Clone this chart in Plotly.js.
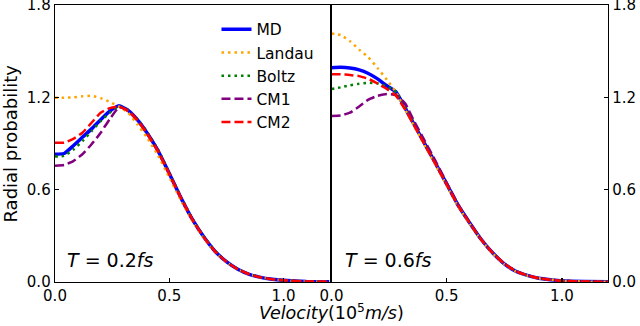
<!DOCTYPE html>
<html>
<head>
<meta charset="utf-8">
<script src="https://cdn.plot.ly/plotly-3.0.1.min.js"></script>
<style>html,body{margin:0;padding:0;background:#fff;}#chart{width:640px;height:326px;}</style>
</head>
<body>
<div id="chart"></div>
<script>
// Velocity grid (10^5 m/s)
const velocity = [0, 0.04, 0.08, 0.12, 0.16, 0.2, 0.24, 0.28, 0.32, 0.36, 0.4, 0.45, 0.5, 0.55, 0.6, 0.65, 0.7, 0.75, 0.8, 0.85, 0.9, 0.95, 1.0, 1.1, 1.2];

// T = 0.2 fs (left panel)
const md02     = [0.83, 0.835, 0.885, 0.94, 0.995, 1.055, 1.11, 1.145, 1.115, 1.055, 0.975, 0.855, 0.705, 0.55, 0.41, 0.295, 0.2, 0.132, 0.083, 0.05, 0.03, 0.018, 0.011, 0.004, 0.002];
const landau02 = [1.198, 1.198, 1.2, 1.207, 1.21, 1.195, 1.17, 1.14, 1.1, 1.025, 0.945, 0.825, 0.68, 0.535, 0.4, 0.288, 0.196, 0.13, 0.082, 0.05, 0.03, 0.018, 0.011, 0.004, 0.002];
const boltz02  = [0.815, 0.82, 0.86, 0.915, 0.98, 1.045, 1.1, 1.14, 1.118, 1.06, 0.982, 0.862, 0.712, 0.556, 0.415, 0.298, 0.203, 0.134, 0.084, 0.051, 0.031, 0.018, 0.011, 0.004, 0.002];
const cm102    = [0.755, 0.76, 0.785, 0.83, 0.895, 0.97, 1.06, 1.135, 1.118, 1.058, 0.978, 0.858, 0.708, 0.553, 0.412, 0.296, 0.201, 0.133, 0.083, 0.05, 0.03, 0.018, 0.011, 0.004, 0.002];
const cm202    = [0.905, 0.905, 0.93, 0.97, 1.035, 1.1, 1.13, 1.14, 1.11, 1.05, 0.97, 0.85, 0.702, 0.548, 0.408, 0.293, 0.199, 0.132, 0.083, 0.05, 0.03, 0.018, 0.011, 0.004, 0.002];

// T = 0.6 fs (right panel)
const md06     = [1.393, 1.395, 1.39, 1.378, 1.355, 1.32, 1.275, 1.235, 1.13, 1.02, 0.91, 0.775, 0.636, 0.497, 0.384, 0.276, 0.188, 0.118, 0.07, 0.043, 0.024, 0.015, 0.008, 0.003, 0.001];
const landau06 = [1.615, 1.605, 1.565, 1.51, 1.46, 1.39, 1.315, 1.233, 1.12, 1.01, 0.9, 0.765, 0.628, 0.49, 0.378, 0.272, 0.185, 0.116, 0.069, 0.042, 0.024, 0.015, 0.008, 0.003, 0.001];
const boltz06  = [1.254, 1.265, 1.278, 1.288, 1.295, 1.29, 1.272, 1.235, 1.14, 1.025, 0.915, 0.778, 0.638, 0.499, 0.385, 0.277, 0.189, 0.119, 0.071, 0.043, 0.024, 0.015, 0.008, 0.003, 0.001];
const cm106    = [1.079, 1.082, 1.1, 1.14, 1.185, 1.21, 1.222, 1.215, 1.16, 1.04, 0.93, 0.79, 0.645, 0.503, 0.386, 0.278, 0.19, 0.12, 0.071, 0.043, 0.024, 0.015, 0.008, 0.003, 0.001];
const cm206    = [1.35, 1.35, 1.345, 1.338, 1.32, 1.29, 1.255, 1.21, 1.12, 1.012, 0.905, 0.77, 0.632, 0.494, 0.381, 0.274, 0.187, 0.118, 0.07, 0.043, 0.024, 0.015, 0.008, 0.003, 0.001];

const seriesNames = ['MD', 'Landau', 'Boltz', 'CM1', 'CM2'];
const yTicks = [0, 0.6, 1.2, 1.8];
const yTickText = ['0.0', '0.6', '1.2', '1.8'];
const xTicks = [0, 0.5, 1.0];
const xTickText = ['0.0', '0.5', '1.0'];

const styles = [
  {color: '#0000ff', width: 3.5, dash: 'solid'},
  {color: '#ffa500', width: 2.5, dash: '2.5px,4px'},
  {color: '#008000', width: 2.5, dash: '2.5px,4px'},
  {color: '#800080', width: 2.5, dash: '9px,4px'},
  {color: '#ff0000', width: 2.5, dash: '9px,4px'}
];
const left = [md02, landau02, boltz02, cm102, cm202];
const right = [md06, landau06, boltz06, cm106, cm206];

const data = [];
left.forEach((ys, i) => data.push({
  x: velocity, y: ys, type: 'scatter', mode: 'lines', name: seriesNames[i],
  line: Object.assign({shape: 'spline', smoothing: 0.4}, styles[i]),
  xaxis: 'x', yaxis: 'y', showlegend: true
}));
right.forEach((ys, i) => data.push({
  x: velocity, y: ys, type: 'scatter', mode: 'lines', name: seriesNames[i],
  line: Object.assign({shape: 'spline', smoothing: 0.4}, styles[i]),
  xaxis: 'x2', yaxis: 'y2', showlegend: false
}));

const font = {family: 'DejaVu Sans', color: '#000'};
const axBase = {
  showgrid: false, zeroline: false, showline: true, linecolor: '#000', linewidth: 1.3,
  mirror: true, ticks: 'inside', ticklen: 4, tickwidth: 1.2, tickcolor: '#000',
  ticklabeloverflow: 'allow',
  tickfont: Object.assign({size: 15}, font)
};

const layout = {
  width: 640, height: 326,
  margin: {l: 55, r: 31.5, t: 5, b: 44},
  paper_bgcolor: '#fff', plot_bgcolor: '#fff',
  showlegend: true,
  legend: {x: 0.292, y: 0.972, xanchor: 'left', yanchor: 'top', bgcolor: 'rgba(0,0,0,0)',
           font: Object.assign({size: 15.5}, font), tracegroupgap: 0},
  xaxis: Object.assign({}, axBase, {domain: [0, 0.5], range: [0, 1.21], tickvals: xTicks, ticktext: xTickText, anchor: 'y'}),
  yaxis: Object.assign({}, axBase, {domain: [0, 1], range: [0, 1.8], tickvals: yTicks, ticktext: yTickText, anchor: 'x', mirror: false}),
  xaxis2: Object.assign({}, axBase, {domain: [0.5, 1], range: [0, 1.2], tickvals: xTicks, ticktext: xTickText, anchor: 'y2'}),
  yaxis2: Object.assign({}, axBase, {domain: [0, 1], range: [0, 1.8], tickvals: yTicks, ticktext: yTickText, anchor: 'x2', side: 'right'}),
  annotations: [
    {xref: 'x', yref: 'y', x: 0.045, y: 0.143, xanchor: 'left', yanchor: 'middle', showarrow: false,
     text: '<i>T</i> = 0.2<i>fs</i>', font: Object.assign({size: 19}, font)},
    {xref: 'x2', yref: 'y2', x: 0.048, y: 0.143, xanchor: 'left', yanchor: 'middle', showarrow: false,
     text: '<i>T</i> = 0.6<i>fs</i>', font: Object.assign({size: 19}, font)},
    {xref: 'paper', yref: 'paper', x: 0.5, y: 0, yshift: -30, xanchor: 'center', yanchor: 'middle', showarrow: false,
     text: '<i>Velocity</i>(10<sup>5</sup><i>m/s</i>)', font: Object.assign({size: 17.5}, font)},
    {xref: 'paper', yref: 'paper', x: 0, y: 0.5, xshift: -45, xanchor: 'center', yanchor: 'middle', showarrow: false,
     textangle: -90, text: 'Radial probability', font: Object.assign({size: 18}, font)}
  ]
};

Plotly.newPlot('chart', data, layout, {displayModeBar: false, staticPlot: true});
</script>
</body>
</html>
